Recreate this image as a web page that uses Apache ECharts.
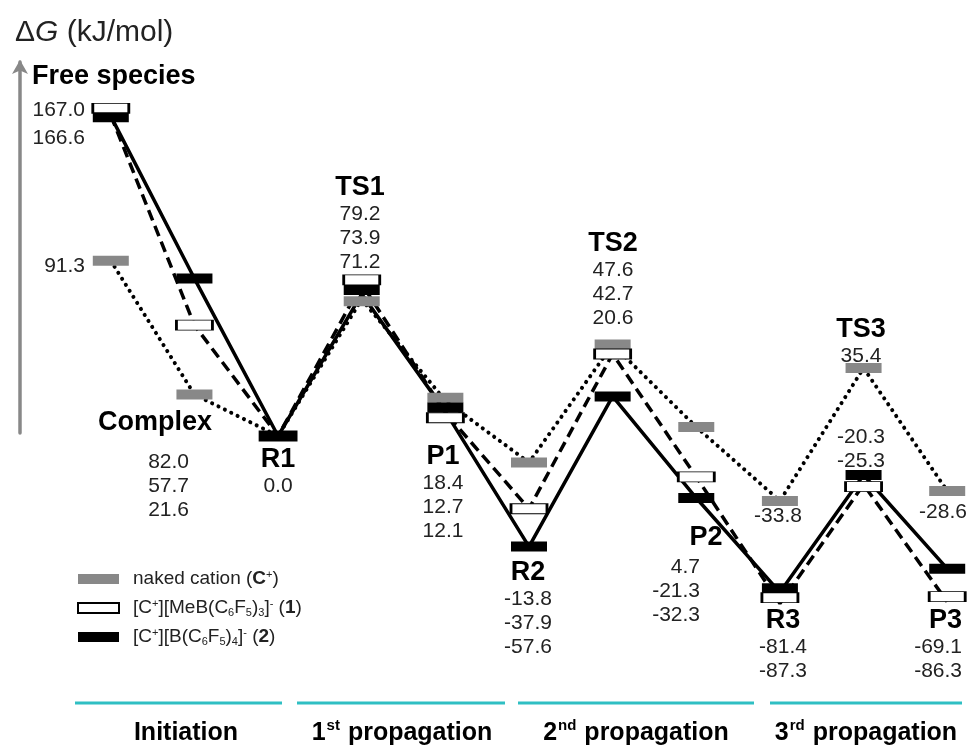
<!DOCTYPE html>
<html><head><meta charset="utf-8">
<script src="https://cdn.jsdelivr.net/npm/echarts@6/dist/echarts.min.js"></script>
<style>html,body{margin:0;padding:0;background:#fff}#c{width:972px;height:747px}</style>
</head><body><div id="c"></div>
<script>
// ---- data ----
const stages = ['Free species','Complex','R1','TS1','P1','R2','TS2','P2','R3','TS3','P3'];
const naked  = [91.3, 21.6, 0.0, 71.2, 18.4, -13.8, 47.6, 4.7, -33.8, 35.4, -28.6];
const anion1 = [167.0, 57.7, 0.0, 79.2, 12.1, -37.9, 42.7, -21.3, -87.3, -25.3, -86.3];
const anion2 = [166.6, 82.0, 0.0, 73.9, 12.7, -57.6, 20.6, -32.3, -81.4, -20.3, -69.1];
const seriesNames = ['naked cation (C+)', '[C+][MeB(C6F5)3]- (1)', '[C+][B(C6F5)4]- (2)'];
const sections = [['1', '', 'Initiation'], ['1', 'st', ' propagation'], ['2', 'nd', ' propagation'], ['3', 'rd', ' propagation']];

// ---- styling ----
const FONT = '"Liberation Sans", Arial, sans-serif';
const GRAY = '#888888';
const f1 = v => v.toFixed(1);
// small visual separation of overlapping level bars (pixels)
const offN  = [0, 0, 0, 2, -3, 0, 0, 0, 0, 0, 0];
const offA1 = [-7, 0, 0, -4, 5, 0, 0, 0, -6, 2, -5];
const offA2 = [1, 0, 0, -4, -4, 0, 0, 0, -4, 0, 0];

const chart = echarts.init(document.getElementById('c'), null, {renderer: 'canvas'});

function lineSeries(vals, lineStyle) {
  return {type: 'line', data: vals, symbol: 'none', z: 2, silent: true, lineStyle: Object.assign({color: '#000'}, lineStyle)};
}
function barSeries(name, vals, offs, itemStyle) {
  return {
    type: 'scatter', name: name, symbol: 'rect', symbolSize: [36, 10], z: 3,
    itemStyle: Object.assign({opacity: 1}, itemStyle),
    emphasis: {disabled: true},
    data: vals.map((v, i) => ({value: [i, v], symbolOffset: [0, offs[i]]}))
  };
}

const richH = {fontFamily: FONT, fontWeight: 'bold', fontSize: 27, lineHeight: 28, fill: '#000'};
const richV = {fontFamily: FONT, fontSize: 21, lineHeight: 24, fill: '#222'};
function block(x, yTop, align, head, vals, valLH) {
  const lines = [];
  if (head) lines.push('{h|' + head + '}');
  vals.forEach(v => lines.push('{v|' + f1(v) + '}'));
  const v = Object.assign({}, richV);
  if (valLH) v.lineHeight = valLH;
  return {type: 'text', z: 10, style: {x: x, y: yTop, text: lines.join('\n'), align: align, verticalAlign: 'top',
    rich: {h: richH, v: v}}};
}

const graphics = [
  block(32, 63, 'left', 'Free species', []),
  block(85, 96, 'right', null, [anion1[0], anion2[0]], 28),
  block(85, 254, 'right', null, [naked[0]]),
  block(98, 409, 'left', 'Complex', []),
  block(189, 450, 'right', null, [anion2[1], anion1[1], naked[1]]),
  block(278, 446, 'center', 'R1', [anion2[2]]),
  block(360, 174, 'center', 'TS1', [anion1[3], anion2[3], naked[3]]),
  block(443, 443, 'center', 'P1', [naked[4], anion2[4], anion1[4]]),
  block(528, 559, 'center', 'R2', [naked[5], anion1[5], anion2[5]]),
  block(613, 230, 'center', 'TS2', [naked[6], anion1[6], anion2[6]]),
  block(706, 524, 'center', 'P2', []),
  block(700, 555, 'right', null, [naked[7], anion1[7], anion2[7]]),
  block(778, 504, 'center', null, [naked[8]]),
  block(783, 607, 'center', 'R3', [anion2[8], anion1[8]]),
  block(861, 316, 'center', 'TS3', [naked[9]]),
  block(861, 425, 'center', null, [anion2[9], anion1[9]]),
  block(943, 500, 'center', null, [naked[10]]),
  block(962, 607, 'right', 'P3', [anion2[10], anion1[10]])
];

// section bars and labels
const CYAN = '#2fbfc3';
const segs = [[75, 282], [297, 505], [518, 754], [770, 962]];
const secCenters = [186, 402, 636, 866];
segs.forEach(s => graphics.push({type: 'line', z: 10, shape: {x1: s[0], y1: 703, x2: s[1], y2: 703},
  style: {stroke: CYAN, lineWidth: 3}}));
sections.forEach((s, i) => {
  const txt = i === 0 ? '{b|' + s[2] + '}' : '{b|' + s[0] + '}{s|' + s[1] + '}{b|' + s[2] + '}';
  graphics.push({type: 'text', z: 10, style: {x: secCenters[i], y: 733, text: txt, align: 'center', verticalAlign: 'middle',
    rich: {b: {fontFamily: FONT, fontWeight: 'bold', fontSize: 25, lineHeight: 30, fill: '#000'},
           s: {fontFamily: FONT, fontWeight: 'bold', fontSize: 15, lineHeight: 30, verticalAlign: 'top', padding: [0, 1, 0, 1], fill: '#000'}}}});
});

const legendFmt = {};
legendFmt[seriesNames[0]] = '{sp|}{n|naked cation (}{b|C}{sup|+}{n|)}';
legendFmt[seriesNames[1]] = '{sp|}{n|[C}{sup|+}{n|][MeB(C}{sub|6}{n|F}{sub|5}{n|)}{sub|3}{n|]}{sup|-}{n| (}{b|1}{n|)}';
legendFmt[seriesNames[2]] = '{sp|}{n|[C}{sup|+}{n|][B(C}{sub|6}{n|F}{sub|5}{n|)}{sub|4}{n|]}{sup|-}{n| (}{b|2}{n|)}';

const option = {
  backgroundColor: '#fff',
  animation: false,
  title: {
    text: '{a|Δ}{g|G}{a| (kJ/mol)}', left: 10, top: 13,
    textStyle: {fontWeight: 'normal', rich: {
      a: {fontFamily: FONT, fontSize: 30, fontWeight: 'normal', color: '#222'},
      g: {fontFamily: FONT, fontSize: 30, fontWeight: 'normal', fontStyle: 'italic', color: '#222'}
    }}
  },
  grid: [
    {left: 110.8, width: 836.4, top: 52, height: 576},
    {left: 20, width: 1, top: 62, height: 371}
  ],
  xAxis: [
    {type: 'category', data: stages, boundaryGap: false, show: false, gridIndex: 0},
    {type: 'value', show: false, gridIndex: 1}
  ],
  yAxis: [
    {type: 'value', min: -100, max: 200, show: false, gridIndex: 0},
    {type: 'value', gridIndex: 1, min: 0, max: 1, position: 'left',
     axisLine: {show: true, symbol: ['none', 'arrow'], symbolSize: [12, 14], symbolOffset: [0, 2],
       lineStyle: {color: GRAY, width: 3.5}},
     axisTick: {show: false}, axisLabel: {show: false}, splitLine: {show: false}}
  ],
  legend: {
    orient: 'vertical', left: 77, top: 569, padding: 0, itemGap: 9,
    itemWidth: 41, itemHeight: 10, icon: 'rect',
    data: seriesNames,
    formatter: n => legendFmt[n],
    textStyle: {lineHeight: 20, rich: {
      sp: {width: 9},
      n: {fontFamily: FONT, fontSize: 19, lineHeight: 20, color: '#222'},
      b: {fontFamily: FONT, fontSize: 19, fontWeight: 'bold', lineHeight: 20, color: '#222'},
      sup: {fontFamily: FONT, fontSize: 11, lineHeight: 13, verticalAlign: 'top', color: '#222'},
      sub: {fontFamily: FONT, fontSize: 11, lineHeight: 12, verticalAlign: 'bottom', color: '#222'}
    }}
  },
  series: [
    lineSeries(naked, {width: 4, type: [0.1, 7], cap: 'round'}),
    lineSeries(anion1, {width: 3.5, type: [11, 6]}),
    lineSeries(anion2, {width: 3.5, type: 'solid'}),
    barSeries(seriesNames[0], naked, offN, {color: GRAY, borderColor: GRAY, borderWidth: 0}),
    barSeries(seriesNames[1], anion1, offA1, {color: '#fff', borderColor: '#000', borderWidth: 1.5}),
    barSeries(seriesNames[2], anion2, offA2, {color: '#000'})
  ],
  graphic: graphics
};
chart.setOption(option);
</script></body></html>
